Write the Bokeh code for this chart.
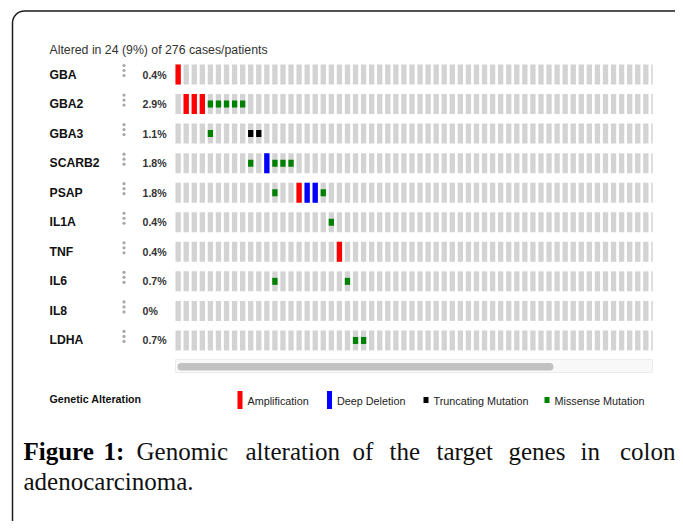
from bokeh.plotting import figure
from bokeh.models import Range1d
from bokeh.core.properties import value
from bokeh.embed import file_html
from bokeh.resources import INLINE

# ---------------- data ----------------
genes = ["GBA", "GBA2", "GBA3", "SCARB2", "PSAP", "IL1A", "TNF", "IL6", "IL8", "LDHA"]
pct_altered = ["0.4%", "2.9%", "1.1%", "1.8%", "1.8%", "0.4%", "0.4%", "0.7%", "0%", "0.7%"]
n_cases_total = 276
n_cases_altered = 24
n_cases_visible = 60  # columns visible in the scroll window

amp_genes = ["GBA", "GBA2", "GBA2", "GBA2", "PSAP", "TNF"]
amp_cases = [0, 1, 2, 3, 15, 20]
del_genes = ["SCARB2", "PSAP", "PSAP"]
del_cases = [11, 16, 17]
trunc_genes = ["GBA3", "GBA3"]
trunc_cases = [9, 10]
mis_genes = ["GBA2", "GBA2", "GBA2", "GBA2", "GBA2", "GBA3", "SCARB2", "SCARB2", "SCARB2",
             "SCARB2", "PSAP", "PSAP", "IL1A", "IL6", "IL6", "LDHA", "LDHA"]
mis_cases = [4, 5, 6, 7, 8, 4, 9, 12, 13, 14, 12, 18, 19, 12, 21, 22, 23]

legend_labels = ["Amplification", "Deep Deletion", "Truncating Mutation", "Missense Mutation"]
legend_colors = ["#ff0000", "#0000ff", "#000000", "#008000"]

caption_bold = ["Figure", "1:"]
caption_line1 = ["Genomic", "alteration", "of", "the", "target", "genes", "in"]
caption_last = "colon"
caption_line2 = "adenocarcinoma."

# ---------------- figure ----------------
W, H = 675, 521
p = figure(width=W, height=H, x_range=Range1d(0, W), y_range=Range1d(H, 0),
           output_backend="svg", toolbar_location=None, min_border=0)
p.axis.visible = False
p.grid.visible = False
p.outline_line_color = None
p.background_fill_color = "white"
p.border_fill_color = "white"

# case / gene scales (pixel pitch of columns and rows)
col_pitch = 8.063
row_pitch = 29.55
c_start = -177.65 / col_pitch
p.extra_x_ranges = {"case": Range1d(c_start, c_start + W / col_pitch)}
p.extra_y_ranges = {"gene": Range1d((H - 74.0) / row_pitch, -74.0 / row_pitch)}

gi = {g: i for i, g in enumerate(genes)}
FONT = value("Liberation Sans")

# frame
p.quad(left=12, right=700, top=10.5, bottom=560, fill_color=None,
       line_color="#1a1a1a", line_width=1.5, border_radius=12)

# background grey cells
bx, by = [], []
for r in range(len(genes)):
    for c in range(n_cases_visible):
        bx.append(c); by.append(r)
BW = 0.66
BH = 20.0 / row_pitch
p.rect(x=bx, y=by, width=BW, height=BH, fill_color="#d3d3d3", line_color=None,
       x_range_name="case", y_range_name="gene")

# amplification & deletion: full height
p.rect(x=amp_cases, y=[gi[g] for g in amp_genes], width=BW, height=BH,
       fill_color=legend_colors[0], line_color=None, x_range_name="case", y_range_name="gene")
p.rect(x=del_cases, y=[gi[g] for g in del_genes], width=BW, height=BH,
       fill_color=legend_colors[1], line_color=None, x_range_name="case", y_range_name="gene")
MH = 7.0 / row_pitch
p.rect(x=trunc_cases, y=[gi[g] for g in trunc_genes], width=BW, height=MH,
       fill_color=legend_colors[2], line_color=None, x_range_name="case", y_range_name="gene")
p.rect(x=mis_cases, y=[gi[g] for g in mis_genes], width=BW, height=MH,
       fill_color=legend_colors[3], line_color=None, x_range_name="case", y_range_name="gene")

# clip the partially visible last column
p.quad(left=652.2, right=668, top=55, bottom=354, fill_color="white", line_color=None)

# gene labels, dots, percentages
rows = list(range(len(genes)))
p.text(x=[49] * len(genes), y=rows, text=genes, text_font=FONT, text_font_size="12.2px",
       text_font_style="bold", text_color="#111111", text_baseline="middle",
       text_align="left", y_range_name="gene")
p.text(x=[142] * len(genes), y=rows, text=pct_altered, text_font=FONT, text_font_size="10.6px",
       text_font_style="bold", text_color="#333333", text_baseline="middle",
       text_align="left", y_range_name="gene")
dx, dy = [], []
for r in rows:
    for k in (-1, 0, 1):
        dx.append(123.5); dy.append(r - (4 - 5 * k) / row_pitch)
p.scatter(x=dx, y=dy, size=3.2, fill_color="#a8a8a8", line_color=None, y_range_name="gene")

# header
p.text(x=[49], y=[49], text=[f"Altered in {n_cases_altered} ({round(100*n_cases_altered/n_cases_total)}%) of {n_cases_total} cases/patients"],
       text_font=FONT, text_font_size="12.3px", text_color="#333333",
       text_baseline="middle", text_align="left")

# scrollbar
p.quad(left=175, right=652, top=359, bottom=372, fill_color="#f8f8f8",
       line_color="#ececec", line_width=1)
p.quad(left=177, right=553, top=362.5, bottom=370, fill_color="#c1c1c1",
       line_color=None, border_radius=4)

# legend
p.text(x=[49], y=[398], text=["Genetic Alteration"], text_font=FONT, text_font_size="10.7px",
       text_font_style="bold", text_color="#111111", text_baseline="middle", text_align="left")
leg_x = [237, 326.5, 423, 544]
leg_full = [True, True, False, False]
for lx, lab, col, full in zip(leg_x, legend_labels, legend_colors, leg_full):
    if full:
        p.quad(left=lx, right=lx + 5, top=390.5, bottom=408.5, fill_color=col, line_color=None)
    else:
        p.quad(left=lx, right=lx + 5, top=396.5, bottom=402.5, fill_color=col, line_color=None)
    p.text(x=[lx + 10], y=[400], text=[lab], text_font=FONT, text_font_size="10.8px",
           text_color="#222222", text_baseline="middle", text_align="left")

# caption (justified first line)
SERIF = value("Liberation Serif")
CAP = "25px"
Y1, Y2 = 450.5, 480.5
p.text(x=[23, 103], y=[Y1, Y1], text=caption_bold, text_font=SERIF, text_font_size=CAP,
       text_font_style="bold", text_color="#000000", text_baseline="middle", text_align="left")
word_x = [136, 245, 352, 389, 436, 508, 580]
p.text(x=word_x, y=[Y1] * len(word_x), text=caption_line1, text_font=SERIF,
       text_font_size=CAP, text_color="#111111", text_baseline="middle", text_align="left")
p.text(x=[675], y=[Y1], text=[caption_last], text_font=SERIF,
       text_font_size=CAP, text_color="#111111", text_baseline="middle", text_align="right")
p.text(x=[23], y=[Y2], text=[caption_line2], text_font=SERIF, text_font_size=CAP,
       text_color="#111111", text_baseline="middle", text_align="left")

open("out.html", "w").write(file_html(p, INLINE))
